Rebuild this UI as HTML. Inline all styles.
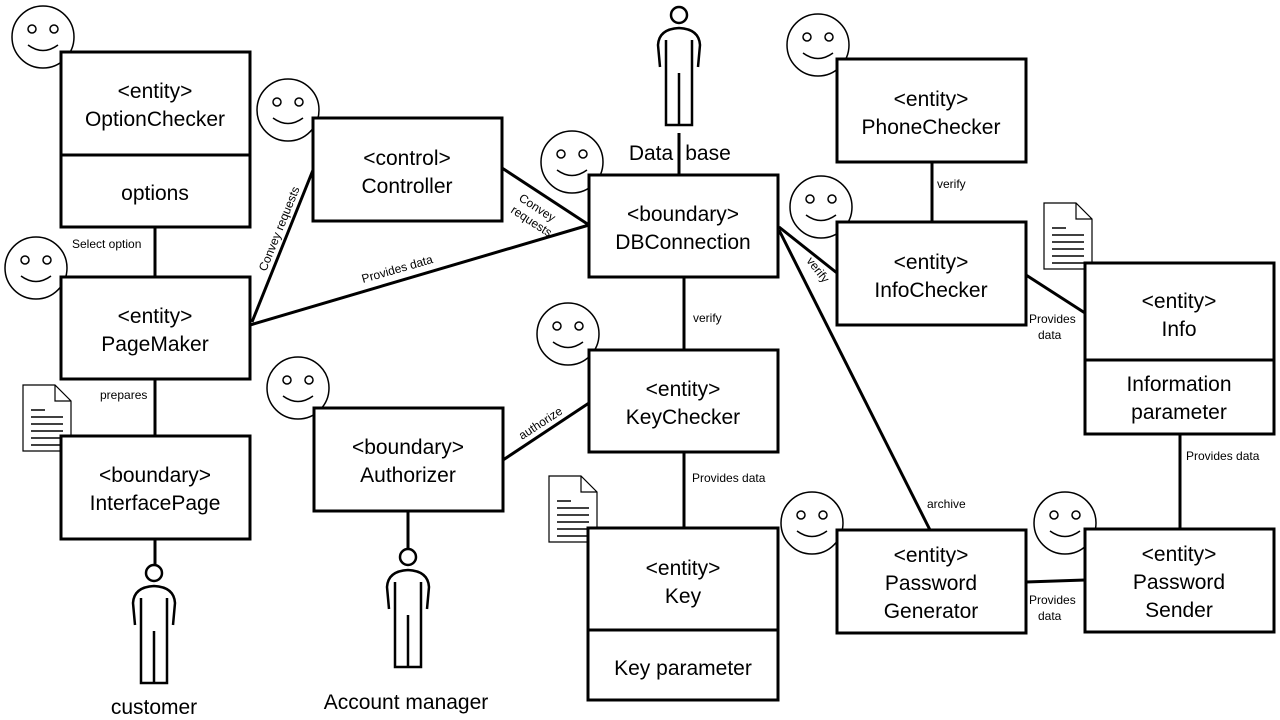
<!DOCTYPE html>
<html><head><meta charset="utf-8"><style>body{margin:0;background:#fff}svg{display:block}</style></head><body>
<svg width="1280" height="720" viewBox="0 0 1280 720" xmlns="http://www.w3.org/2000/svg" font-family="Liberation Sans, sans-serif">
<defs>
<g id="smile"><circle r="31" fill="none" stroke="#000" stroke-width="1.5"/><circle cx="-11" cy="-8" r="4" fill="none" stroke="#000" stroke-width="1.5"/><circle cx="11" cy="-8" r="4" fill="none" stroke="#000" stroke-width="1.5"/><path d="M-15,8 Q0,19 15,8" fill="none" stroke="#000" stroke-width="1.5"/></g>
<g id="doc"><path d="M0,0 L32,0 L48,16 L48,66 L0,66 Z M32,0 L32,16 L48,16" fill="#fff" stroke="#000" stroke-width="1.2"/><path d="M8,25h14M8,32h32M8,39h32M8,46h32M8,53h32M8,60h32" stroke="#000" stroke-width="1.5"/></g>
<g id="actor" fill="none" stroke="#000" stroke-width="2.5"><circle r="8"/><path d="M-19,52 L-21,30 Q-20,14 0,13 Q20,14 21,30 L19,52 M-13,25 L-13,110 L13,110 L13,25 M0,58 L0,110"/></g>
</defs>
<g stroke="#000" stroke-width="3" fill="none">
<line x1="155" y1="227" x2="155" y2="277"/><line x1="155" y1="379" x2="155" y2="436"/>
<line x1="155" y1="539" x2="155" y2="565"/><line x1="408" y1="511" x2="408" y2="548"/>
<line x1="252" y1="322" x2="313" y2="170"/><line x1="250" y1="325" x2="589" y2="225"/>
<line x1="502" y1="168" x2="589" y2="225"/><line x1="679" y1="133" x2="679" y2="175"/>
<line x1="684" y1="277" x2="684" y2="350"/><line x1="684" y1="452" x2="684" y2="528"/>
<line x1="503" y1="460" x2="589" y2="403"/>
<line x1="779" y1="227" x2="837" y2="273"/><line x1="779" y1="230" x2="930" y2="530"/>
<line x1="932" y1="162" x2="932" y2="222"/><line x1="1026" y1="275" x2="1085" y2="313"/>
<line x1="1180" y1="434" x2="1180" y2="529"/><line x1="1026" y1="582" x2="1085" y2="580"/>
</g>
<use href="#smile" x="43" y="37"/><use href="#smile" x="288" y="110"/><use href="#smile" x="572" y="162"/>
<use href="#smile" x="818" y="45"/><use href="#smile" x="821" y="207"/><use href="#smile" x="36" y="268"/>
<use href="#smile" x="568" y="334"/><use href="#smile" x="298" y="388"/><use href="#smile" x="812" y="523"/><use href="#smile" x="1065" y="523"/>
<use href="#doc" x="23" y="385"/><use href="#doc" x="549" y="476"/><use href="#doc" x="1044" y="203"/>
<use href="#actor" x="679" y="15"/><use href="#actor" x="154" y="573"/><use href="#actor" x="408" y="557"/>
<g stroke="#000" stroke-width="3" fill="#fff">
<rect x="61" y="52" width="189" height="175"/><line x1="61" y1="155" x2="250" y2="155"/>
<rect x="313" y="118" width="189" height="103"/>
<rect x="589" y="175" width="189" height="102"/>
<rect x="837" y="59" width="189" height="103"/>
<rect x="837" y="222" width="189" height="103"/>
<rect x="1085" y="263" width="189" height="171"/><line x1="1085" y1="360" x2="1274" y2="360"/>
<rect x="61" y="277" width="189" height="102"/>
<rect x="61" y="436" width="189" height="103"/>
<rect x="314" y="408" width="189" height="103"/>
<rect x="589" y="350" width="189" height="102"/>
<rect x="588" y="528" width="190" height="172"/><line x1="588" y1="630" x2="778" y2="630"/>
<rect x="837" y="530" width="189" height="103"/>
<rect x="1085" y="529" width="189" height="103"/>
</g>
<g font-size="21" text-anchor="middle" fill="#000">
<text x="155" y="98">&lt;entity&gt;</text><text x="155" y="126">OptionChecker</text><text x="155" y="200">options</text>
<text x="407" y="165">&lt;control&gt;</text><text x="407" y="193">Controller</text>
<text x="683" y="221">&lt;boundary&gt;</text><text x="683" y="249">DBConnection</text>
<text x="931" y="106">&lt;entity&gt;</text><text x="931" y="134">PhoneChecker</text>
<text x="931" y="269">&lt;entity&gt;</text><text x="931" y="297">InfoChecker</text>
<text x="1179" y="308">&lt;entity&gt;</text><text x="1179" y="336">Info</text>
<text x="1179" y="391">Information</text><text x="1179" y="419">parameter</text>
<text x="155" y="323">&lt;entity&gt;</text><text x="155" y="351">PageMaker</text>
<text x="155" y="482">&lt;boundary&gt;</text><text x="155" y="510">InterfacePage</text>
<text x="408" y="454">&lt;boundary&gt;</text><text x="408" y="482">Authorizer</text>
<text x="683" y="396">&lt;entity&gt;</text><text x="683" y="424">KeyChecker</text>
<text x="683" y="575">&lt;entity&gt;</text><text x="683" y="603">Key</text><text x="683" y="675">Key parameter</text>
<text x="931" y="562">&lt;entity&gt;</text><text x="931" y="590">Password</text><text x="931" y="618">Generator</text>
<text x="1179" y="561">&lt;entity&gt;</text><text x="1179" y="589">Password</text><text x="1179" y="617">Sender</text>
<text x="651" y="160">Data</text><text x="708" y="160">base</text>
<text x="154" y="714">customer</text><text x="406" y="709">Account manager</text>
</g>
<g font-size="12" fill="#000">
<text x="72" y="248">Select option</text><text x="100" y="399">prepares</text>
<text x="693" y="322">verify</text><text x="692" y="482">Provides  data</text>
<text x="937" y="188">verify</text><text x="927" y="508">archive</text>
<text x="1186" y="460">Provides  data</text>
<text x="1029" y="323">Provides</text><text x="1038" y="339">data</text>
<text x="1029" y="604">Provides</text><text x="1038" y="620">data</text>
<text x="363" y="283" transform="rotate(-16 363 283)">Provides data</text>
<text x="266" y="272" transform="rotate(-68 266 272)">Convey requests</text>
<text x="522" y="440" transform="rotate(-33 522 440)">authorize</text>
<text x="518" y="200" transform="rotate(33 518 200)">Convey</text>
<text x="510" y="212" transform="rotate(33 510 212)">requests</text>
<text x="806" y="261" transform="rotate(52 806 261)">verify</text>
</g>
</svg>
</body></html>
